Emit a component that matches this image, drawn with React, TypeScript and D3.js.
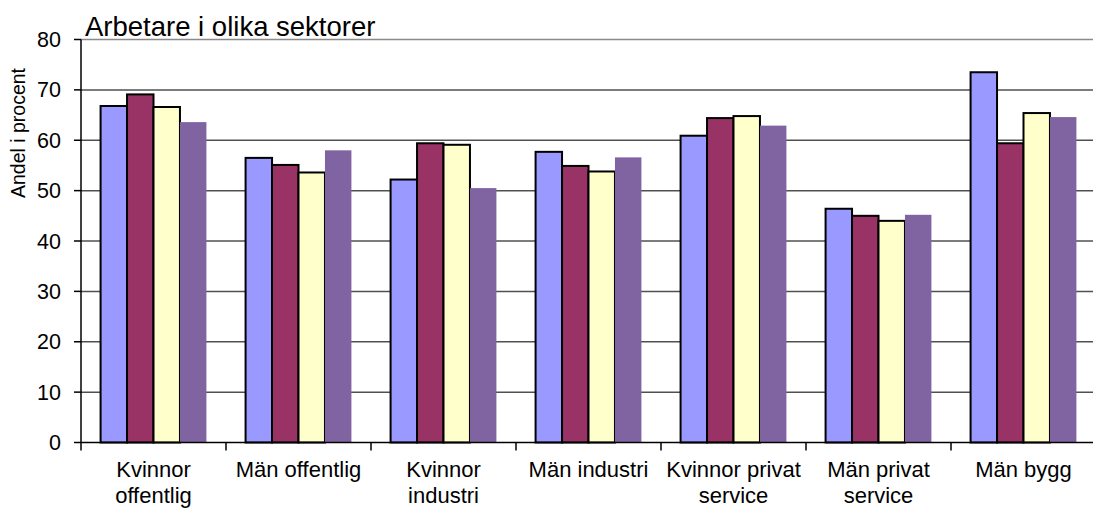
import React from 'react';
import * as d3 from 'd3';

const categories = [
  ['Kvinnor', 'offentlig'],
  ['Män offentlig'],
  ['Kvinnor', 'industri'],
  ['Män industri'],
  ['Kvinnor privat', 'service'],
  ['Män privat', 'service'],
  ['Män bygg'],
];

// four unnamed series (no legend in the source)
const serie1 = [66.8, 56.5, 52.2, 57.7, 60.9, 46.4, 73.5];
const serie2 = [69.1, 55.1, 59.4, 54.9, 64.4, 45.0, 59.4];
const serie3 = [66.6, 53.6, 59.1, 53.8, 64.8, 44.0, 65.4];
const serie4 = [63.6, 58.0, 50.5, 56.6, 62.9, 45.2, 64.6];

const yTicks = [0, 10, 20, 30, 40, 50, 60, 70, 80];

const colors = ['#9999FF', '#993366', '#FFFFCC', '#8064A2'];
const outlined = [true, true, true, false];

const W = 1093;
const H = 508;
const left = 81;
const right = 1096;
const top = 39.5;
const bottom = 442.5;

const App = () => {
  const series = [serie1, serie2, serie3, serie4];

  const x = d3.scaleBand<number>()
    .domain(categories.map((_, i) => i))
    .range([left, right])
    .paddingInner(0)
    .paddingOuter(0);

  // bars fill ~106px of the 145px category band
  const inner = d3.scaleBand<number>()
    .domain(series.map((_, i) => i))
    .range([0, x.bandwidth()])
    .paddingInner(0)
    .paddingOuter(0.74);

  const y = d3.scaleLinear().domain([0, 80]).range([bottom, top]);

  const font = 'Liberation Sans, Arial, sans-serif';

  return (
    <svg width={W} height={H} style={{ position: 'absolute', left: 0, top: 0, background: '#fff' }}>
      <rect width={W} height={H} fill="#fff" />

      {/* gridlines */}
      {yTicks.filter(t => t > 0).map(t => (
        <line key={t} x1={left} x2={W} y1={y(t)} y2={y(t)}
          stroke={t === 80 ? '#8a8a8a' : '#505050'} strokeWidth={1.5} />
      ))}

      {/* bars */}
      {series.map((vals, s) => vals.map((v, c) => (
        <rect key={`${s}-${c}`}
          x={(x(c) ?? 0) + (inner(s) ?? 0)}
          y={y(v)}
          width={inner.bandwidth()}
          height={bottom - y(v)}
          fill={colors[s]}
          stroke={outlined[s] ? '#000' : 'none'}
          strokeWidth={2} />
      )))}

      {/* y axis */}
      <line x1={left} x2={left} y1={top} y2={bottom} stroke="#000" strokeWidth={1.5} />
      {yTicks.map(t => (
        <g key={t}>
          <line x1={left - 7} x2={left} y1={y(t)} y2={y(t)} stroke="#000" strokeWidth={1.5} />
          <text x={61} y={y(t) + 7.5} textAnchor="end" fontFamily={font} fontSize={21.5} fill="#000">{t}</text>
        </g>
      ))}

      {/* x axis */}
      <line x1={left} x2={W} y1={bottom} y2={bottom} stroke="#000" strokeWidth={1.5} />
      {categories.map((_, i) => (
        <line key={i} x1={x(i)} x2={x(i)} y1={bottom} y2={bottom + 8} stroke="#000" strokeWidth={1.5} />
      ))}
      {categories.map((lines, i) => (
        <text key={i} textAnchor="middle" fontFamily={font} fontSize={22} fill="#000">
          {lines.map((l, j) => (
            <tspan key={j} x={(x(i) ?? 0) + x.bandwidth() / 2} y={477 + j * 26}>{l}</tspan>
          ))}
        </text>
      ))}

      <text transform="translate(25,133) rotate(-90)" textAnchor="middle"
        fontFamily={font} fontSize={19.5} fill="#000">Andel i procent</text>

      <text x={85} y={36} fontFamily={font} fontSize={27.5} fill="#000">Arbetare i olika sektorer</text>
    </svg>
  );
};

export default App;
